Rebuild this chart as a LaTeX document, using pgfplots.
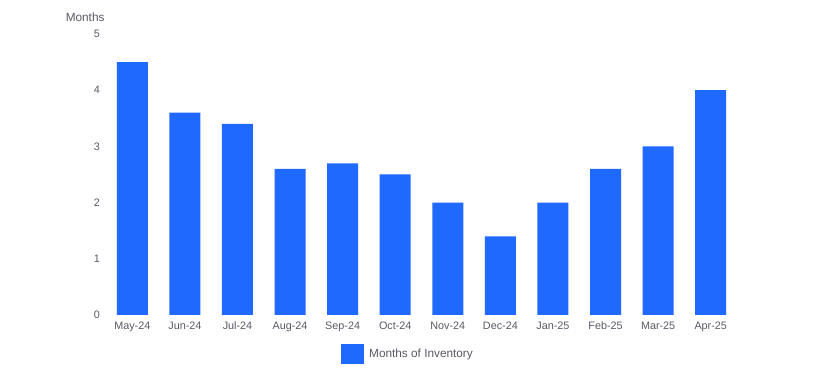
\documentclass[border=0pt]{standalone}
\usepackage{pgfplots}
\pgfplotsset{compat=1.18}
\usepackage{fontspec}
\setmainfont{Liberation Sans}
\definecolor{barblue}{RGB}{31,105,255}
\definecolor{txtgray}{RGB}{90,88,100}
\begin{document}
\begin{tikzpicture}
\path[use as bounding box] (-106pt,-64pt) rectangle (708pt,315pt);
\begin{axis}[
  at={(0pt,0pt)}, anchor=south west,
  scale only axis,
  clip=false,
  width=631pt, height=281pt,
  xmin=-0.5, xmax=11.5,
  ymin=0, ymax=5,
  axis line style={draw=none},
  major tick length=0pt,
  xtick=data,
  xticklabels={May-24,Jun-24,Jul-24,Aug-24,Sep-24,Oct-24,Nov-24,Dec-24,Jan-25,Feb-25,Mar-25,Apr-25},
  ytick={0,1,2,3,4,5},
  tick label style={font=\fontsize{10.8}{12}\selectfont, text=txtgray},
  /pgf/number format/assume math mode=true,
  yticklabel style={anchor=east, xshift=-2.5pt},
  xticklabel style={yshift=-3pt},
  ybar, bar width=31pt,
  legend style={draw=none, at={(0.4786,-0.139)}, anchor=center, font=\fontsize{11.8}{13}\selectfont, text=txtgray},
  legend image code/.code={\fill[#1] (0pt,-10pt) rectangle (23pt,10pt);},
  legend cell align=left,
]
\addplot[fill=barblue, draw=none] coordinates {
(0,4.5) (1,3.6) (2,3.4) (3,2.6) (4,2.7) (5,2.5) (6,2.0) (7,1.4) (8,2.0) (9,2.6) (10,3.0) (11,4.0)};
\addlegendentry{\hspace{3pt}Months of Inventory}
\node[anchor=base east, text=txtgray, font=\fontsize{11.8}{13}\selectfont] at (rel axis cs:0,1) [xshift=2pt, yshift=12pt] {Months};
\end{axis}
\end{tikzpicture}
\end{document}
